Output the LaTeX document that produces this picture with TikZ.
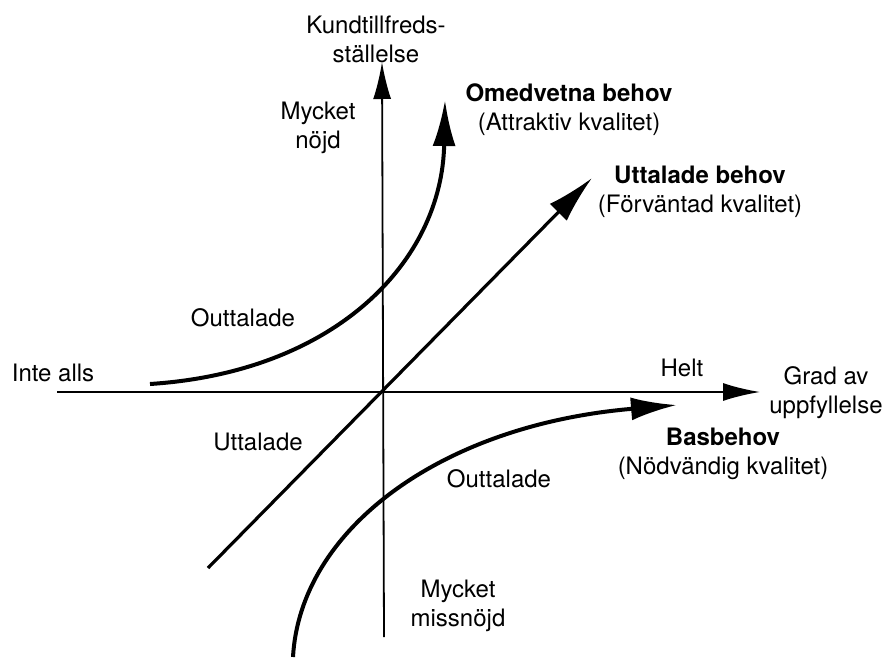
\documentclass[tikz,border=0pt]{standalone}
\usepackage{fontspec}
\setmainfont{TeX Gyre Heros}
\usetikzlibrary{arrows.meta}
\tikzset{
  every node/.style={font=\fontsize{24}{29}\selectfont,inner sep=0pt,align=center},
  axis/.style={line width=1.8pt,-{Latex[length=37pt,width=18pt]}},
  trend/.style={line width=3.2pt,-{Latex[length=48pt,width=24pt]}},
  need/.style={line width=4pt,-{Latex[length=46pt,width=23pt]}},
}

\begin{document}
\begin{tikzpicture}[x=1pt,y=-1pt]
\useasboundingbox (0,0) rectangle (889,659);

% axes
\coordinate (xl) at (57,392);
\coordinate (xr) at (760,392);
\coordinate (yb) at (384,637);
\coordinate (yt) at (382,62);
\draw[axis] (xl) -- (xr);
\draw[axis] (yb) -- (yt);

% the three kinds of needs
\coordinate (ts) at (208,568);
\coordinate (te) at (592,178);
\coordinate (us) at (150,384);
\coordinate (ue) at (445,100);
\coordinate (bs) at (293,657);
\coordinate (be) at (677,405);
\draw[trend] (ts) -- (te);
\draw[need] (us) .. controls (335,372) and (442,262) .. (ue);
\draw[need] (bs) .. controls (300,530) and (440,425) .. (be);

% labels
\node (ylab) at (376,39) {Kundtillfreds-\\ställelse};
\node (xlab) at (826,393) {Grad av\\uppfyllelse};
\node (nojd) at (318,128) {Mycket\\nöjd};
\node (missnojd) at (458,606) {Mycket\\missnöjd};
\node (inte) at (53,373) {Inte alls};
\node (helt) at (682,368) {Helt};

\node (omedv) at (569,110) {\textbf{Omedvetna behov}\\(Attraktiv kvalitet)};
\node (uttal) at (700,192) {\textbf{Uttalade behov}\\(Förväntad kvalitet)};
\node (bas) at (723,454) {\textbf{Basbehov}\\(Nödvändig kvalitet)};

\node (outt1) at (243,318) {Outtalade};
\node (utt) at (258,442) {Uttalade};
\node (outt2) at (499,479) {Outtalade};

\end{tikzpicture}
\end{document}
